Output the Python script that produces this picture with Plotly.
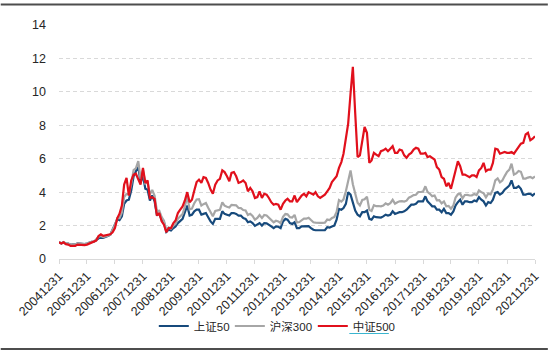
import pandas as pd
import plotly.graph_objects as go

# Month-end observation dates, 2004-12-31 .. 2021-12-31
dates = pd.date_range("2004-12-31", periods=205, freq=pd.offsets.MonthEnd())

sse50 = [1.00,
 0.93,1.00,0.92,0.92,0.85,0.88,0.87,0.94,0.92,0.87,0.89,0.93,
 0.99,1.02,1.03,1.13,1.28,1.33,1.27,1.31,1.38,1.45,1.78,2.08,
 2.38,2.33,2.55,3.30,3.50,3.55,4.10,4.95,5.25,5.55,4.55,5.00,
 4.20,4.15,3.50,3.80,3.45,2.65,2.70,2.35,2.20,1.62,1.75,1.70,
 1.85,1.95,2.15,2.25,2.40,2.80,3.20,2.60,2.65,2.85,2.95,2.95,
 2.65,2.70,2.75,2.50,2.25,2.10,2.40,2.40,2.40,2.85,2.70,2.65,
 2.60,2.75,2.75,2.70,2.60,2.60,2.45,2.40,2.20,2.25,2.15,1.98,
 2.05,2.15,2.00,2.15,2.13,2.02,1.95,1.85,1.95,1.93,1.85,2.25,
 2.40,2.35,2.15,2.10,2.20,1.85,1.85,1.95,1.95,1.93,1.97,1.85,
 1.75,1.72,1.72,1.72,1.72,1.73,1.90,1.88,1.95,2.00,2.35,3.00,
 2.95,3.05,3.30,4.00,3.85,3.30,2.90,2.65,2.55,2.80,2.80,2.90,
 2.40,2.35,2.55,2.50,2.50,2.48,2.55,2.65,2.60,2.65,2.85,2.70,
 2.75,2.80,2.80,2.85,2.95,3.10,3.25,3.25,3.30,3.45,3.45,3.45,
 3.75,3.45,3.30,3.15,3.15,2.95,2.95,2.80,3.00,2.75,2.75,2.65,
 2.85,3.20,3.40,3.55,3.25,3.45,3.45,3.40,3.40,3.50,3.45,3.70,
 3.55,3.45,3.20,3.40,3.35,3.55,3.95,4.00,3.85,3.95,4.15,4.30,
 4.40,4.70,4.25,4.25,4.35,4.20,3.85,3.85,3.90,3.90,3.80,3.93]

csi300 = [1.00,
 0.94,1.01,0.93,0.92,0.85,0.87,0.87,0.94,0.92,0.87,0.89,0.92,
 0.99,1.02,1.03,1.15,1.33,1.38,1.31,1.35,1.40,1.45,1.75,2.04,
 2.44,2.44,2.78,3.71,3.90,3.89,4.47,5.32,5.43,5.85,4.80,5.34,
 4.52,4.59,3.87,4.13,3.78,2.87,2.89,2.51,2.29,1.71,1.89,1.82,
 2.00,2.10,2.41,2.52,2.69,3.14,3.75,2.97,3.01,3.34,3.56,3.58,
 3.20,3.28,3.35,3.07,2.76,2.56,2.87,2.90,2.94,3.39,3.19,3.13,
 3.08,3.24,3.22,3.21,3.05,3.04,2.93,2.90,2.63,2.70,2.58,2.35,
 2.46,2.63,2.45,2.63,2.60,2.46,2.33,2.20,2.29,2.25,2.14,2.52,
 2.69,2.67,2.50,2.48,2.64,2.18,2.21,2.34,2.41,2.41,2.47,2.33,
 2.20,2.18,2.15,2.16,2.16,2.17,2.36,2.33,2.45,2.51,2.81,3.53,
 3.43,3.57,4.05,4.75,5.30,4.47,3.82,3.37,3.20,3.53,3.57,3.73,
 2.95,2.88,3.22,3.16,3.17,3.15,3.20,3.33,3.25,3.34,3.54,3.31,
 3.39,3.45,3.46,3.44,3.49,3.67,3.74,3.82,3.84,4.01,4.01,4.03,
 4.35,4.02,3.90,3.76,3.80,3.51,3.52,3.33,3.44,3.15,3.17,3.01,
 3.20,3.67,3.87,3.91,3.63,3.83,3.84,3.80,3.81,3.89,3.83,4.10,
 4.00,3.94,3.69,3.91,3.87,4.16,4.70,4.82,4.59,4.70,4.96,5.21,
 5.35,5.70,5.05,5.12,5.27,5.22,4.81,4.81,4.87,4.91,4.83,4.94]

csi500 = [1.00,
 0.93,1.00,0.89,0.86,0.78,0.79,0.79,0.86,0.85,0.80,0.83,0.86,
 0.92,0.98,1.00,1.10,1.38,1.48,1.38,1.42,1.45,1.48,1.60,1.85,
 2.45,2.70,3.20,4.45,4.85,3.80,4.70,5.05,5.10,4.75,4.45,5.45,
 4.55,4.70,3.65,3.70,3.60,2.60,2.75,2.25,2.05,1.60,1.85,1.85,
 2.15,2.30,2.75,2.95,3.15,3.50,4.00,3.40,3.55,4.10,4.60,4.75,
 4.55,4.90,4.85,4.55,4.15,3.90,4.45,4.70,4.80,5.30,5.20,4.95,
 4.65,5.15,5.20,4.95,4.55,4.60,4.70,4.55,4.05,4.25,4.05,3.65,
 3.70,4.05,3.65,3.90,3.85,3.65,3.40,3.25,3.30,3.25,2.95,3.30,
 3.50,3.60,3.45,3.45,3.80,3.40,3.60,3.80,3.90,3.75,4.00,3.90,
 3.85,4.00,3.75,3.65,3.75,3.85,4.05,4.25,4.60,4.80,4.95,5.45,
 5.80,6.30,7.30,8.10,9.90,11.50,8.70,6.10,6.20,7.20,7.90,7.55,
 5.75,5.90,6.35,6.25,6.15,6.45,6.50,6.60,6.45,6.60,6.75,6.35,
 6.35,6.55,6.50,6.20,6.05,6.25,6.35,6.55,6.65,6.60,6.30,6.30,
 6.35,6.10,6.15,6.05,5.95,5.50,5.35,4.90,4.80,4.35,4.55,4.20,
 4.75,5.35,5.85,5.55,5.05,5.05,4.95,4.90,5.00,5.00,4.90,5.30,
 5.45,5.75,5.25,5.35,5.35,5.75,6.60,6.55,6.30,6.35,6.40,6.35,
 6.35,6.40,6.30,6.50,6.70,6.90,6.95,7.45,7.55,7.10,7.20,7.35]

series_names = ["上证50", "沪深300", "中证500"]
series_colors = ["#174A7C", "#A6A6A6", "#E1101C"]
legend_ids = ["legend", "legend2", "legend3"]

tick_dates = ["2004-12-31", "2005-12-31", "2006-12-31", "2007-12-31", "2008-12-31",
              "2009-12-31", "2010-12-31", "2011-12-31", "2012-12-31", "2013-12-31",
              "2014-12-31", "2015-12-31", "2016-12-31", "2017-12-31", "2018-12-31",
              "2019-12-31", "2020-12-31", "2021-12-31"]
tick_labels = ["20041231", "20051231", "20061231", "20071231", "20081231",
               "20091231", "20101231", "20111231", "20121231", "20131231",
               "20141231", "20151231", "20161231", "20171231", "20181231",
               "20191231", "20201231", "20211231"]
y_ticks = [0, 2, 4, 6, 8, 10, 12, 14]

fig = go.Figure()
for name, vals, col, lg in zip(series_names, [sse50, csi300, csi500], series_colors, legend_ids):
    fig.add_trace(go.Scatter(x=dates, y=vals, mode="lines", name=name, legend=lg,
                             line=dict(color=col, width=2.2)))

W, H = 554, 353
L, R, T, B = 59, 13, 25, 94
pw, ph = W - L - R, H - T - B

def px_x(p):
    return (p - L) / pw

def px_y(p):
    return (H - B - p) / ph

def legend_at(px):
    return dict(orientation="h", x=px_x(px), xanchor="left", y=px_y(326), yanchor="middle",
                font=dict(size=11.5, family="Liberation Sans, Noto Sans CJK SC", color="#262626"),
                itemwidth=30, bgcolor="rgba(0,0,0,0)", borderwidth=0)

fig.update_layout(
    width=W, height=H,
    margin=dict(l=L, r=R, t=T, b=B),
    paper_bgcolor="white", plot_bgcolor="white",
    font=dict(family="Liberation Sans, Arial, Noto Sans CJK SC", size=12, color="#262626"),
    showlegend=True,
    legend=legend_at(155),
    legend2=legend_at(232),
    legend3=legend_at(316),
    xaxis=dict(type="date", range=["2004-12-31", "2021-12-31"],
               tickmode="array", tickvals=tick_dates, ticktext=tick_labels,
               tickangle=-45, tickfont=dict(size=12.5),
               showgrid=False, showline=True, linecolor="#D9D9D9", linewidth=1,
               ticks="outside", ticklen=4, tickcolor="#D9D9D9", zeroline=False),
    yaxis=dict(range=[0, 14], tickmode="array", tickvals=y_ticks,
               showgrid=True, gridcolor="#D9D9D9", griddash="4px,3px", gridwidth=1,
               zeroline=False, showline=False, ticks="", ticklabelstandoff=12,
               tickfont=dict(size=12.5)),
    shapes=[
        dict(type="line", xref="paper", yref="paper", x0=px_x(0), x1=px_x(W),
             y0=px_y(4.5), y1=px_y(4.5), line=dict(color="#4D4D4D", width=2)),
        dict(type="line", xref="paper", yref="paper", x0=px_x(0), x1=px_x(W),
             y0=px_y(349), y1=px_y(349), line=dict(color="#4D4D4D", width=2)),
        dict(type="line", xref="paper", yref="paper", x0=px_x(353), x1=px_x(393),
             y0=px_y(333.5), y1=px_y(333.5), line=dict(color="#3AB5CF", width=1)),
    ],
)

fig.write_html("out.html")
